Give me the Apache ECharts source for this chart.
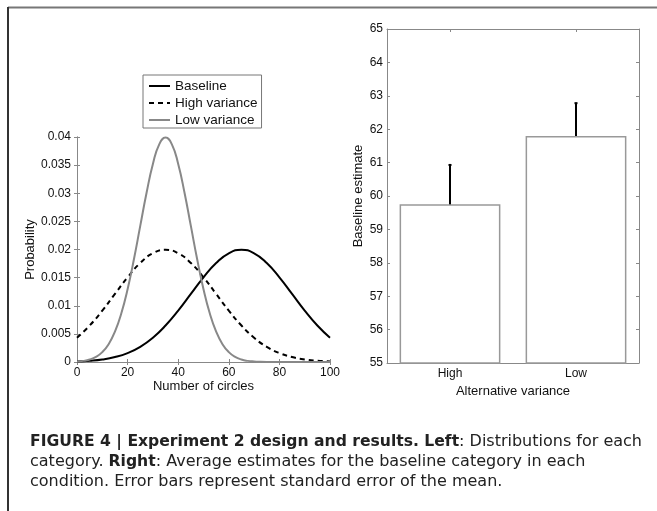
<!DOCTYPE html>
<html>
<head>
<meta charset="utf-8">
<script src="https://cdn.jsdelivr.net/npm/echarts@6/dist/echarts.min.js"></script>
<style>html,body{margin:0;padding:0;background:#fff;}#c{width:657px;height:511px;}</style>
</head>
<body>
<div id="c"></div>
<script>
// Left panel: distributions
var xBase = [0,5,10,15,20,25,30,35,40,45,50,55,60,65,70,75,80,85,90,95,100];
var baseline = [0.0001,0.00022,0.00045,0.00088,0.00159,0.0027,0.00431,0.00648,0.00913,0.0121,0.01506,0.0176,0.01933,0.01995,0.01933,0.0176,0.01506,0.0121,0.00913,0.00648,0.00431];
var highVariance = [0.00431,0.00648,0.00913,0.0121,0.01506,0.0176,0.01933,0.01995,0.01933,0.0176,0.01506,0.0121,0.00913,0.00648,0.00431,0.0027,0.00159,0.00088,0.00045,0.00022,0.0001];
var xLow = [0,2.5,5,7.5,10,12.5,15,17.5,20,22.5,25,27.5,30,32.5,35,37.5,40,42.5,45,47.5,50,52.5,55,57.5,60,62.5,65,67.5,70,72.5,75,77.5,80,85,90,95,100];
var lowVariance = [0.00009,0.0002,0.00044,0.00091,0.00175,0.00317,0.0054,0.00863,0.01295,0.01827,0.0242,0.0301,0.0352,0.0387,0.0399,0.0387,0.0352,0.0301,0.0242,0.01827,0.01295,0.00863,0.0054,0.00317,0.00175,0.00091,0.00044,0.0002,0.00009,0.00004,0.00001,0,0,0,0,0,0];
var seriesNames = ['Baseline','High variance','Low variance'];

// Right panel: bar chart with error bars
var categories = ['High','Low'];
var means = [59.75, 61.8];
var errLow = [58.58, 60.85];
var errHigh = [60.93, 62.78];

function pairs(xs, ys){ return xs.map(function(x,i){ return [x, ys[i]]; }); }

var FONT = 'Liberation Sans';
var CAP = 'DejaVu Sans';
var axisGray = '#888';
var tickStyle = {show:true, inside:true, length:3, lineStyle:{color:axisGray, width:1}};
var lineStyleAxis = {show:true, lineStyle:{color:axisGray, width:1}};
var lbl = {fontFamily:FONT, fontSize:12, color:'#111'};

var chart = echarts.init(document.getElementById('c'), null, {renderer:'canvas'});
var option = {
  animation:false,
  backgroundColor:'#fff',
  textStyle:{fontFamily:FONT},
  title:{
    left:25, top:427,
    text:'{b|FIGURE 4 | Experiment 2 design and results. Left}{n|: Distributions for each}\n{n|category. }{b|Right}{n|: Average estimates for the baseline category in each}\n{n|condition. Error bars represent standard error of the mean.}',
    textStyle:{
      fontWeight:'normal',
      rich:{
        b:{fontFamily:CAP, fontSize:15.6, fontWeight:'bold', color:'#222', lineHeight:20},
        n:{fontFamily:CAP, fontSize:16, fontWeight:'normal', color:'#222', lineHeight:20}
      }
    }
  },
  legend:{
    data:seriesNames,
    orient:'vertical',
    left:143, top:75,
    padding:[4,4,1,5],
    itemGap:3, itemWidth:21, itemHeight:14,
    itemStyle:{opacity:0, borderWidth:0},
    borderColor:'#777', borderWidth:1, backgroundColor:'#fff',
    textStyle:{fontFamily:FONT, fontSize:13.5, color:'#111'}
  },
  grid:[
    {left:77, top:137, width:253, height:225, containLabel:false},
    {left:387, top:29, width:252, height:334, containLabel:false}
  ],
  xAxis:[
    {gridIndex:0, type:'value', min:0, max:100, interval:20, position:'bottom',
     name:'Number of circles', nameLocation:'middle', nameGap:18,
     nameTextStyle:{fontFamily:FONT, fontSize:13, color:'#111'},
     axisLine:lineStyleAxis, axisTick:tickStyle, splitLine:{show:false},
     axisLabel:Object.assign({margin:5}, lbl)},
    {gridIndex:0, type:'value', min:0, max:100, interval:20, position:'top',
     axisLine:lineStyleAxis, axisTick:tickStyle, splitLine:{show:false}, axisLabel:{show:false}},
    {gridIndex:1, type:'category', data:categories, position:'bottom',
     name:'Alternative variance', nameLocation:'middle', nameGap:18,
     nameTextStyle:{fontFamily:FONT, fontSize:13, color:'#111'},
     axisLine:lineStyleAxis, axisTick:Object.assign({alignWithLabel:true}, tickStyle),
     axisLabel:Object.assign({margin:5}, lbl)},
    {gridIndex:1, type:'category', data:categories, position:'top',
     axisLine:lineStyleAxis, axisTick:Object.assign({alignWithLabel:true}, tickStyle), axisLabel:{show:false}}
  ],
  yAxis:[
    {gridIndex:0, type:'value', min:0, max:0.04, interval:0.005, position:'left',
     name:'Probability', nameLocation:'middle', nameGap:28, nameRotate:90,
     nameTextStyle:{fontFamily:FONT, fontSize:13, color:'#111'},
     axisLine:lineStyleAxis, axisTick:tickStyle, splitLine:{show:false},
     axisLabel:Object.assign({margin:6}, lbl)},
    {gridIndex:0, type:'value', min:0, max:0.04, interval:0.005, position:'right',
     axisLine:lineStyleAxis, axisTick:tickStyle, splitLine:{show:false}, axisLabel:{show:false}},
    {gridIndex:1, type:'value', min:55, max:65, interval:1, position:'left',
     name:'Baseline estimate', nameLocation:'middle', nameGap:22, nameRotate:90,
     nameTextStyle:{fontFamily:FONT, fontSize:13, color:'#111'},
     axisLine:lineStyleAxis, axisTick:tickStyle, splitLine:{show:false},
     axisLabel:Object.assign({margin:4}, lbl)},
    {gridIndex:1, type:'value', min:55, max:65, interval:1, position:'right',
     axisLine:lineStyleAxis, axisTick:tickStyle, splitLine:{show:false}, axisLabel:{show:false}}
  ],
  series:[
    {name:seriesNames[0], type:'line', xAxisIndex:0, yAxisIndex:0, data:pairs(xBase, baseline),
     smooth:true, symbol:'none', lineStyle:{color:'#000', width:2}, itemStyle:{color:'#000'}},
    {name:seriesNames[1], type:'line', xAxisIndex:0, yAxisIndex:0, data:pairs(xBase, highVariance),
     smooth:true, symbol:'none', lineStyle:{color:'#000', width:2, type:[5,4]}, itemStyle:{color:'#000'}},
    {name:seriesNames[2], type:'line', xAxisIndex:0, yAxisIndex:0, data:pairs(xLow, lowVariance),
     smooth:true, symbol:'none', lineStyle:{color:'#888', width:2}, itemStyle:{color:'#888'}},
    {type:'bar', xAxisIndex:2, yAxisIndex:2, data:means, barWidth:'80%',
     itemStyle:{color:'#fff', borderColor:'#999', borderWidth:1.5}},
    {type:'custom', xAxisIndex:2, yAxisIndex:2,
     data:categories.map(function(c,i){ return [i, errLow[i], errHigh[i]]; }),
     renderItem:function(params, api){
       var lo = api.coord([api.value(0), api.value(1)]);
       var hi = api.coord([api.value(0), api.value(2)]);
       var st = {stroke:'#000', lineWidth:2};
       return {type:'group', children:[
         {type:'line', shape:{x1:lo[0], y1:lo[1], x2:hi[0], y2:hi[1]}, style:st},
         {type:'line', shape:{x1:lo[0]-1.5, y1:lo[1], x2:lo[0]+1.5, y2:lo[1]}, style:st},
         {type:'line', shape:{x1:hi[0]-1.5, y1:hi[1], x2:hi[0]+1.5, y2:hi[1]}, style:st}
       ]};
     }}
  ],
  graphic:[
    {type:'line', shape:{x1:8, y1:7.5, x2:657, y2:7.5}, style:{stroke:'#777', lineWidth:2}, silent:true},
    {type:'line', shape:{x1:8, y1:7, x2:8, y2:511}, style:{stroke:'#333', lineWidth:2}, silent:true}
  ]
};
chart.setOption(option);
</script>
</body>
</html>
